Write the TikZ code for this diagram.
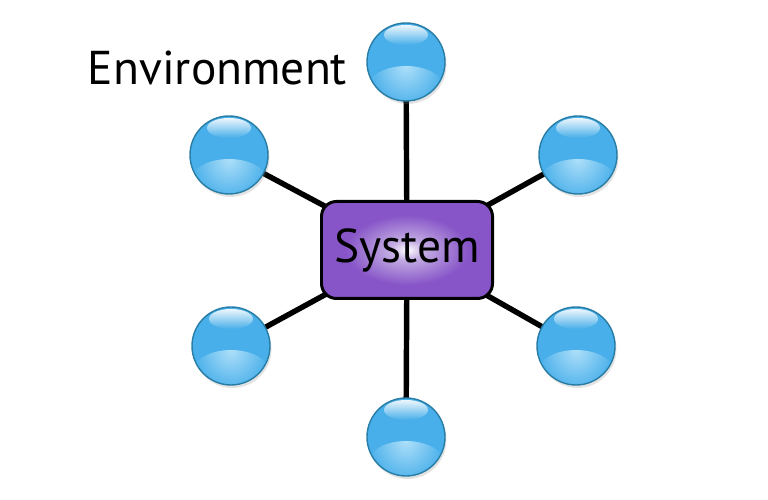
\documentclass[tikz,border=0pt]{standalone}
\usepackage{fontspec}
\setmainfont{PT Sans}
\usetikzlibrary{positioning,shadows,backgrounds,calc,fadings}
\definecolor{ballblue}{RGB}{72,175,234}
\definecolor{ballglow}{RGB}{175,224,250}
\definecolor{balledge}{RGB}{50,140,200}
\definecolor{ballrim}{RGB}{40,125,165}
\definecolor{syspurple}{RGB}{135,85,200}
\definecolor{syslight}{RGB}{195,172,226}
\pgfdeclareradialshading{sysglow}{\pgfpoint{0bp}{0bp}}{%
  color(0bp)=(white); color(5bp)=(syslight); color(18bp)=(syspurple); color(50bp)=(syspurple)}
\pgfdeclareradialshading{ballbody}{\pgfpoint{0bp}{0bp}}{%
  color(0bp)=(ballblue); color(38bp)=(ballblue); color(50bp)=(balledge)}
\tikzfading[name=glowfade,inner color=transparent!0,outer color=transparent!100]

\begin{document}
\begin{tikzpicture}[
  envball/.style={circle,draw=ballrim,line width=0.8pt,minimum size=1.56cm,shading=ballbody,
    drop shadow={opacity=0.22,shadow xshift=0.03cm,shadow yshift=-0.06cm},
    path picture={
      \fill[ballglow,path fading=glowfade]
        ($(path picture bounding box.center)+(0,-0.5)$) ellipse (0.75 and 0.42);
      \fill[white,path fading=south,fill opacity=0.9]
        ($(path picture bounding box.north)+(0,-0.24)$) ellipse (0.44 and 0.2);
    }},
  sysbox/.style={draw=black,line width=1.7pt,rounded corners=0.3cm,shading=sysglow,
    minimum width=3.42cm,minimum height=1.94cm,font=\fontsize{27}{30}\selectfont},
  link/.style={line width=3.1pt,draw=black},
]
\useasboundingbox (0,0) rectangle (15.36,10);

% --- SYSTEM ---
\node[sysbox] (sys) at (8.14,5.0) {System};

% --- ENVIRONMENT BALLS ---
\node[envball] (top) at (8.12,8.76) {};
\node[envball] (tl)  at (4.58,6.90) {};
\node[envball] (tr)  at (11.56,6.90) {};
\node[envball] (bl)  at (4.62,3.08) {};
\node[envball] (br)  at (11.52,3.08) {};
\node[envball] (bot) at (8.12,1.26) {};

\node[font=\fontsize{27}{30}\selectfont] (envlabel) at (4.35,8.64) {Environment};

% links behind everything
\begin{scope}[on background layer]
  \foreach \b in {top,tl,tr,bl,br,bot} {
    \draw[link] (sys.center) -- (\b.center);
  }
\end{scope}

\end{tikzpicture}
\end{document}
